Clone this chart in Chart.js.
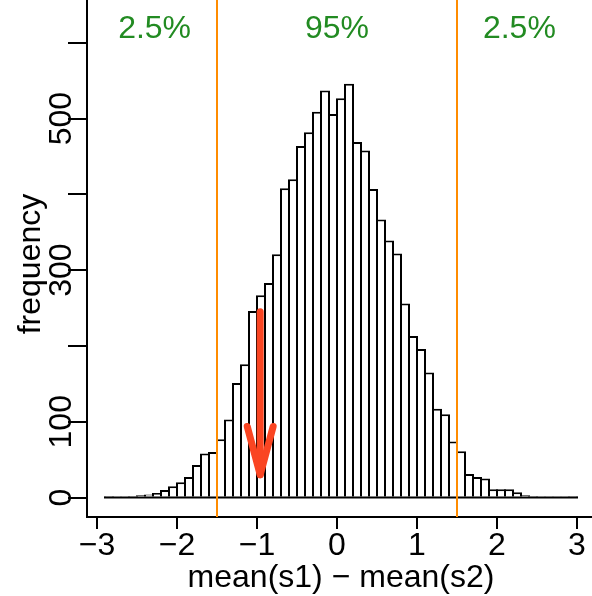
<!DOCTYPE html>
<html><head><meta charset="utf-8">
<script src="https://cdn.jsdelivr.net/npm/chart.js@4/dist/chart.umd.min.js"></script>
<style>html,body{margin:0;padding:0;background:#fff;overflow:hidden;}</style>
</head><body>
<canvas id="c" width="592" height="596" style="width:592px;height:596px;display:block"></canvas>
<script>
// ---- data ----
const binCenters = [-2.85,-2.75,-2.65,-2.55,-2.45,-2.35,-2.25,-2.15,-2.05,-1.95,-1.85,-1.75,-1.65,-1.55,-1.45,-1.35,-1.25,-1.15,-1.05,-0.95,-0.85,-0.75,-0.65,-0.55,-0.45,-0.35,-0.25,-0.15,-0.05,0.05,0.15,0.25,0.35,0.45,0.55,0.65,0.75,0.85,0.95,1.05,1.15,1.25,1.35,1.45,1.55,1.65,1.75,1.85,1.95,2.05,2.15,2.25,2.35,2.45,2.55,2.65,2.75,2.85,2.95];
const counts = [2,1,1,2,3,4,6,10,15,20,27,43,58,60,77,103,151,176,246,267,283,321,408,420,464,482,509,537,506,527,546,469,458,407,367,339,322,256,213,196,165,117,110,74,61,31,27,25,11,11,11,7,3,2,1,1,1,0,2];
const binRange = [-2.9, 3.0];
const xTicks = [-3,-2,-1,0,1,2,3];
const yTicks = [0,100,200,300,400,500,600];
const yTickLabels = [0,100,300,500];
const cutoffs = [-1.5, 1.5];
const regionLabels = ['2.5%','95%','2.5%'];
const regionLabelX = [-2.28, 0, 2.28];
const regionLabelY = 606;
const arrowX = -0.96;
const arrowFrom = 245;
const arrowTo = 30;
const xTitle = 'mean(s1) \u2212 mean(s2)';
const yTitle = 'frequency';

const FONT = '"Liberation Sans", Arial, Helvetica, sans-serif';

const overlay = {
  id: 'overlay',
  afterDatasetsDraw(chart) {
    const ctx = chart.ctx, xs = chart.scales.x, ys = chart.scales.y, ca = chart.chartArea;
    ctx.save();
    // baseline of histogram
    ctx.strokeStyle = '#000'; ctx.lineWidth = 2;
    ctx.beginPath();
    ctx.moveTo(xs.getPixelForValue(binRange[0]) - 1, ys.getPixelForValue(0));
    ctx.lineTo(xs.getPixelForValue(binRange[1]) + 1, ys.getPixelForValue(0));
    ctx.stroke();
    // cutoff lines
    ctx.strokeStyle = '#FF8C00'; ctx.lineWidth = 2;
    cutoffs.forEach(v => {
      const px = Math.round(xs.getPixelForValue(v));
      ctx.beginPath(); ctx.moveTo(px, ca.top); ctx.lineTo(px, ca.bottom); ctx.stroke();
    });
    // arrow
    const ax = xs.getPixelForValue(arrowX);
    const y0 = ys.getPixelForValue(arrowFrom), y1 = ys.getPixelForValue(arrowTo);
    ctx.strokeStyle = '#FA4522'; ctx.lineWidth = 7; ctx.lineCap = 'round'; ctx.lineJoin = 'round';
    ctx.beginPath(); ctx.moveTo(ax, y0); ctx.lineTo(ax, y1); ctx.stroke();
    const hl = 50, ang = 15 * Math.PI / 180;
    ctx.beginPath();
    ctx.moveTo(ax - hl * Math.sin(ang), y1 - hl * Math.cos(ang));
    ctx.lineTo(ax, y1);
    ctx.lineTo(ax + hl * Math.sin(ang), y1 - hl * Math.cos(ang));
    ctx.stroke();
    // region labels
    ctx.fillStyle = '#228B22'; ctx.font = '32px ' + FONT;
    ctx.textAlign = 'center'; ctx.textBaseline = 'alphabetic';
    regionLabels.forEach((t, i) => ctx.fillText(t, xs.getPixelForValue(regionLabelX[i]), ys.getPixelForValue(regionLabelY)));
    ctx.restore();
  },
  afterDraw(chart) {
    const ctx = chart.ctx, xs = chart.scales.x, ys = chart.scales.y;
    ctx.save();
    ctx.fillStyle = '#000'; ctx.font = '32px ' + FONT;
    ctx.textAlign = 'center'; ctx.textBaseline = 'alphabetic';
    // y tick labels (rotated)
    yTickLabels.forEach(v => {
      ctx.save();
      ctx.translate(71, ys.getPixelForValue(v));
      ctx.rotate(-Math.PI / 2);
      ctx.fillText(String(v), 0, 0);
      ctx.restore();
    });
    // y title
    ctx.save();
    ctx.translate(40, 264);
    ctx.rotate(-Math.PI / 2);
    ctx.fillText(yTitle, 0, 0);
    ctx.restore();
    // x title
    ctx.fillText(xTitle, 341, 587);
    ctx.restore();
  }
};

new Chart(document.getElementById('c'), {
  type: 'bar',
  data: {
    datasets: [{
      data: binCenters.map((x, i) => ({ x: x, y: counts[i] })),
      backgroundColor: '#ffffff',
      borderColor: '#000000',
      borderWidth: 2,
      borderSkipped: 'start',
      barThickness: 10,
      inflateAmount: 0
    }]
  },
  options: {
    responsive: false,
    animation: false,
    devicePixelRatio: 1,
    layout: { padding: 0 },
    plugins: { legend: { display: false }, tooltip: { enabled: false } },
    scales: {
      x: {
        type: 'linear', min: -3.125, max: 3.1875, offset: false,
        afterBuildTicks: s => { s.ticks = xTicks.map(v => ({ value: v })); },
        afterFit: s => { s.height = 79; },
        grid: { offset: false, drawOnChartArea: false, drawTicks: true, tickLength: 12, color: '#000', lineWidth: 2 },
        border: { display: true, color: '#000', width: 2 },
        ticks: {
          autoSkip: false, maxRotation: 0, minRotation: 0, padding: -2, color: '#000',
          font: { family: FONT, size: 32 },
          callback: v => v < 0 ? '\u2212' + (-v) : String(v)
        }
      },
      y: {
        type: 'linear', min: -25.7, max: 656.5,
        afterBuildTicks: s => { s.ticks = yTicks.map(v => ({ value: v })); },
        afterFit: s => { s.width = 87; },
        grid: { drawOnChartArea: false, drawTicks: true, tickLength: 19, color: '#000', lineWidth: 2 },
        border: { display: true, color: '#000', width: 2 },
        ticks: { display: false }
      }
    }
  },
  plugins: [overlay]
});
</script>
</body></html>
